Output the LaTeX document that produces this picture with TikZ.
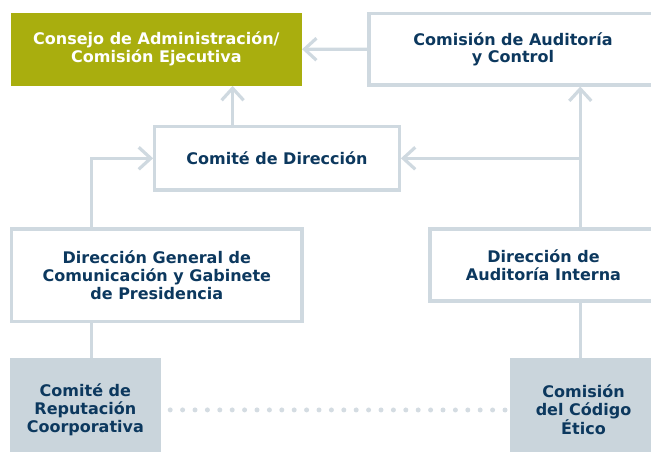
\documentclass[tikz,border=0pt]{standalone}
\usepackage{fontspec}
\setmainfont{DejaVu Sans}
\usetikzlibrary{arrows.meta}
\definecolor{boardgreen}{RGB}{169,174,14}
\definecolor{framegray}{RGB}{207,217,224}
\definecolor{panelgray}{RGB}{202,213,220}
\definecolor{navy}{RGB}{12,56,94}
\definecolor{dotgray}{RGB}{212,220,226}

\begin{document}
\begin{tikzpicture}[x=1pt,y=-1pt]
\tikzset{organ/.style={rectangle, inner sep=0pt, align=center, font=\bfseries\fontsize{16}{17.8}\selectfont}}
\tikzset{board/.style={organ, fill=boardgreen, text=white}}
\tikzset{unit/.style={organ, draw=framegray, line width=3.2pt, text=navy}}
\tikzset{committee/.style={organ, fill=panelgray, text=navy}}
\tikzset{link/.style={draw=framegray, line width=3.2pt}}
\tikzset{report/.style={link, -{Straight Barb[length=12pt,width=22pt]}}}
\tikzset{peer/.style={draw=dotgray, line width=5pt, line cap=round, dash pattern=on 0pt off 12.4pt}}
\useasboundingbox (0,0) rectangle (651,452);
\clip (0,0) rectangle (651,452);
% upper level
\node[board, minimum width=291pt, minimum height=73pt] (board) at (156.4,49.2) {Consejo de Administración/\\Comisión Ejecutiva};
\node[unit, minimum width=288pt, minimum height=71.3pt] (audit) at (513,49.3) {Comisión de Auditoría\\y Control};
\node[unit, minimum width=244.6pt, minimum height=63.3pt] (steering) at (277,158.3) {Comité de Dirección};
% middle level
\node[unit, minimum width=290.3pt, minimum height=92.7pt] (comms) at (156.8,275.3) {Dirección General de\\Comunicación y Gabinete\\de Presidencia};
\node[unit, minimum width=227pt, minimum height=72pt] (internal) at (543.5,265) {Dirección de\\Auditoría Interna};
% committees
\node[committee, minimum width=150.7pt, minimum height=104.3pt] (reputation) at (85.35,409.9) {Comité de\\Reputación\\Coorporativa};
\node[committee, minimum width=147pt, minimum height=104pt] (ethics) at (583.5,410) {Comisión\\del Código\\Ético};
% connectors
\coordinate (trunk) at ([xshift=151.9pt]internal.north west);
\draw[report] (audit.west) -- (board.east);
\draw[report] ([xshift=79.5pt]steering.north west) -- ([xshift=79.5pt]steering.north west |- board.south);
\draw[report] ([xshift=81.3pt]comms.north west) |- (steering.west);
\draw[report] (trunk) -- (trunk |- audit.south);
\draw[report] (trunk |- steering.east) -- (steering.east);
\draw[link] ([xshift=81.3pt]comms.south west) -- ([xshift=81.3pt]comms.south west |- reputation.north);
\draw[link] (trunk |- internal.south) -- (trunk |- ethics.north);
\draw[peer, shorten <=9.3pt, shorten >=3.5pt] (reputation.east) -- (ethics.west);
\end{tikzpicture}
\end{document}
